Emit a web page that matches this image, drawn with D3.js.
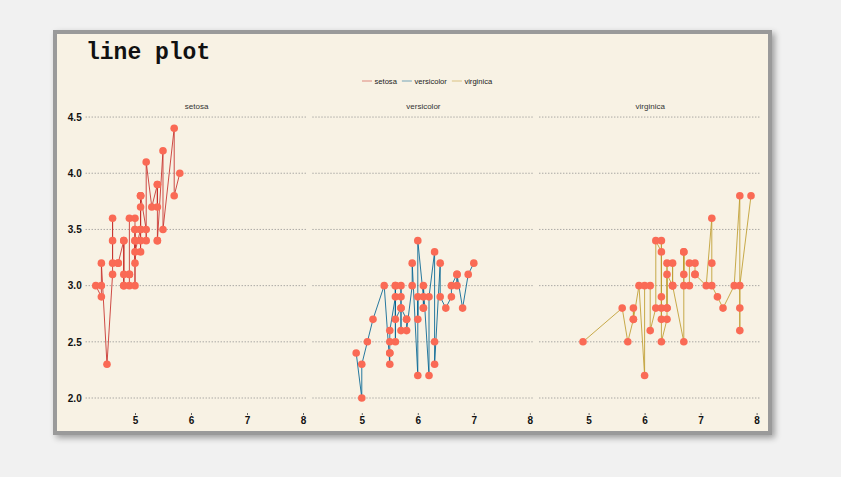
<!DOCTYPE html>
<html>
<head>
<meta charset="utf-8">
<script src="https://cdn.jsdelivr.net/npm/d3@7"></script>
<style>
  body { margin: 0; background: #f1f1f1; }
  svg { display: block; }
</style>
</head>
<body>
<svg width="841" height="477"></svg>
<script>
// iris: Sepal.Length (x) and Sepal.Width (y) per species
var species = ['setosa', 'versicolor', 'virginica'];
var setosaLength = [5.1,4.9,4.7,4.6,5.0,5.4,4.6,5.0,4.4,4.9,5.4,4.8,4.8,4.3,5.8,5.7,5.4,5.1,5.7,5.1,5.4,5.1,4.6,5.1,4.8,5.0,5.0,5.2,5.2,4.7,4.8,5.4,5.2,5.5,4.9,5.0,5.5,4.9,4.4,5.1,5.0,4.5,4.4,5.0,5.1,4.8,5.1,4.6,5.3,5.0];
var setosaWidth = [3.5,3.0,3.2,3.1,3.6,3.9,3.4,3.4,2.9,3.1,3.7,3.4,3.0,3.0,4.0,4.4,3.9,3.5,3.8,3.8,3.4,3.7,3.6,3.3,3.4,3.0,3.4,3.5,3.4,3.2,3.1,3.4,4.1,4.2,3.1,3.2,3.5,3.6,3.0,3.4,3.5,2.3,3.2,3.5,3.8,3.0,3.8,3.2,3.7,3.3];
var versicolorLength = [7.0,6.4,6.9,5.5,6.5,5.7,6.3,4.9,6.6,5.2,5.0,5.9,6.0,6.1,5.6,6.7,5.6,5.8,6.2,5.6,5.9,6.1,6.3,6.1,6.4,6.6,6.8,6.7,6.0,5.7,5.5,5.5,5.8,6.0,5.4,6.0,6.7,6.3,5.6,5.5,5.5,6.1,5.8,5.0,5.6,5.7,5.7,6.2,5.1,5.7];
var versicolorWidth = [3.2,3.2,3.1,2.3,2.8,2.8,3.3,2.4,2.9,2.7,2.0,3.0,2.2,2.9,2.9,3.1,3.0,2.7,2.2,2.5,3.2,2.8,2.5,2.8,2.9,3.0,2.8,3.0,2.9,2.6,2.4,2.4,2.7,2.7,3.0,3.4,3.1,2.3,3.0,2.5,2.6,3.0,2.6,2.3,2.7,3.0,2.9,2.9,2.5,2.8];
var virginicaLength = [6.3,5.8,7.1,6.3,6.5,7.6,4.9,7.3,6.7,7.2,6.5,6.4,6.8,5.7,5.8,6.4,6.5,7.7,7.7,6.0,6.9,5.6,7.7,6.3,6.7,7.2,6.2,6.1,6.4,7.2,7.4,7.9,6.4,6.3,6.1,7.7,6.3,6.4,6.0,6.9,6.7,6.9,5.8,6.8,6.7,6.7,6.3,6.5,6.2,5.9];
var virginicaWidth = [3.3,2.7,3.0,2.9,3.0,3.0,2.5,2.9,2.5,3.6,3.2,2.7,3.0,2.5,2.8,3.2,3.0,3.8,2.6,2.2,3.2,2.8,2.8,2.7,3.3,3.2,2.8,3.0,2.8,3.0,2.8,3.8,2.8,2.8,2.6,3.0,3.4,3.1,3.0,3.1,3.1,3.1,2.7,3.2,3.3,3.0,2.5,3.0,3.4,3.0];
var xTicks = [5, 6, 7, 8];
var yTicks = [2.0, 2.5, 3.0, 3.5, 4.0, 4.5];
var lineColors = ['#c72e29', '#016392', '#be9c2e'];

var series = [
  [setosaLength, setosaWidth],
  [versicolorLength, versicolorWidth],
  [virginicaLength, virginicaWidth]
].map((s, k) => ({
  name: species[k],
  points: s[0].map((x, i) => [x, s[1][i]]).sort((a, b) => a[0] - b[0])
}));

var svg = d3.select('svg');

// card with shadow
var defs = svg.append('defs');
var f = defs.append('filter').attr('id', 'shadow')
  .attr('x', '-5%').attr('y', '-5%').attr('width', '112%').attr('height', '115%');
f.append('feGaussianBlur').attr('in', 'SourceAlpha').attr('stdDeviation', 3);
f.append('feOffset').attr('dx', 3).attr('dy', 3).attr('result', 'b');
f.append('feComponentTransfer').append('feFuncA').attr('type', 'linear').attr('slope', 0.35);
var fm = f.append('feMerge');
fm.append('feMergeNode');
fm.append('feMergeNode').attr('in', 'SourceGraphic');

svg.append('rect')
  .attr('x', 55).attr('y', 32).attr('width', 715).attr('height', 401)
  .attr('fill', '#f8f2e4').attr('stroke', '#9a9a9a').attr('stroke-width', 4)
  .attr('filter', 'url(#shadow)');

svg.append('text')
  .attr('x', 86).attr('y', 59)
  .attr('font-family', 'Liberation Mono, Courier New, monospace')
  .attr('font-weight', 'bold').attr('font-size', 23)
  .attr('fill', '#111')
  .text('line plot');

// legend
var legend = svg.append('g').attr('font-family', 'Liberation Sans, Arial, sans-serif')
  .attr('font-size', 7.6).attr('fill', '#222');
var legendX = 362;
species.forEach((s, k) => {
  var g = legend.append('g').attr('transform', 'translate(' + legendX + ',81)');
  g.append('line').attr('x1', 0).attr('x2', 10).attr('y1', 0).attr('y2', 0)
    .attr('stroke', lineColors[k]).attr('stroke-opacity', 0.45).attr('stroke-width', 1.2);
  var t = g.append('text').attr('x', 12.5).attr('y', 3).text(s);
  legendX += 12.5 + t.node().getComputedTextLength() + 5;
});

// facets
var panelW = 221.8, gap = 5, panelX0 = 85.7;
var y = d3.scaleLinear().domain([1.88, 4.52]).range([411.5, 114.8]);

series.forEach((s, k) => {
  var x0 = panelX0 + k * (panelW + gap);
  var x = d3.scaleLinear().domain([4.12, 8.08]).range([x0, x0 + panelW]);
  var g = svg.append('g');

  g.append('text')
    .attr('x', (x0 + x0 + panelW) / 2).attr('y', 109)
    .attr('text-anchor', 'middle')
    .attr('font-family', 'Liberation Sans, Arial, sans-serif')
    .attr('font-size', 8).attr('fill', '#333')
    .text(s.name);

  g.selectAll('.grid').data(yTicks).enter().append('line')
    .attr('x1', x0).attr('x2', x0 + panelW)
    .attr('y1', d => y(d)).attr('y2', d => y(d))
    .attr('stroke', '#888').attr('stroke-width', 1)
    .attr('stroke-dasharray', '1,2');

  var xAxis = g.append('g').attr('transform', 'translate(0,413)')
    .call(d3.axisBottom(x).tickValues(xTicks).tickSize(2).tickPadding(2).tickFormat(d3.format('d')));
  xAxis.select('.domain').remove();
  xAxis.selectAll('line').attr('stroke', '#666');
  xAxis.selectAll('text').attr('font-family', 'Liberation Sans, Arial, sans-serif')
    .attr('font-weight', 'bold').attr('font-size', 10).attr('fill', '#111');

  if (k === 0) {
    var yAxis = g.append('g').attr('transform', 'translate(' + (x0 - 2) + ',0)')
      .call(d3.axisLeft(y).tickValues(yTicks).tickSize(0).tickPadding(2).tickFormat(d3.format('.1f')));
    yAxis.select('.domain').remove();
    yAxis.selectAll('text').attr('font-family', 'Liberation Sans, Arial, sans-serif')
      .attr('font-weight', 'bold').attr('font-size', 10).attr('fill', '#111');
  }

  var line = d3.line().x(d => x(d[0])).y(d => y(d[1]));
  g.append('path').datum(s.points)
    .attr('d', line).attr('fill', 'none')
    .attr('stroke', lineColors[k]).attr('stroke-width', 1)
    .attr('stroke-opacity', 0.85);

  g.selectAll('circle').data(s.points).enter().append('circle')
    .attr('cx', d => x(d[0])).attr('cy', d => y(d[1])).attr('r', 3.8)
    .attr('fill', '#fa6a55');
});
</script>
</body>
</html>
